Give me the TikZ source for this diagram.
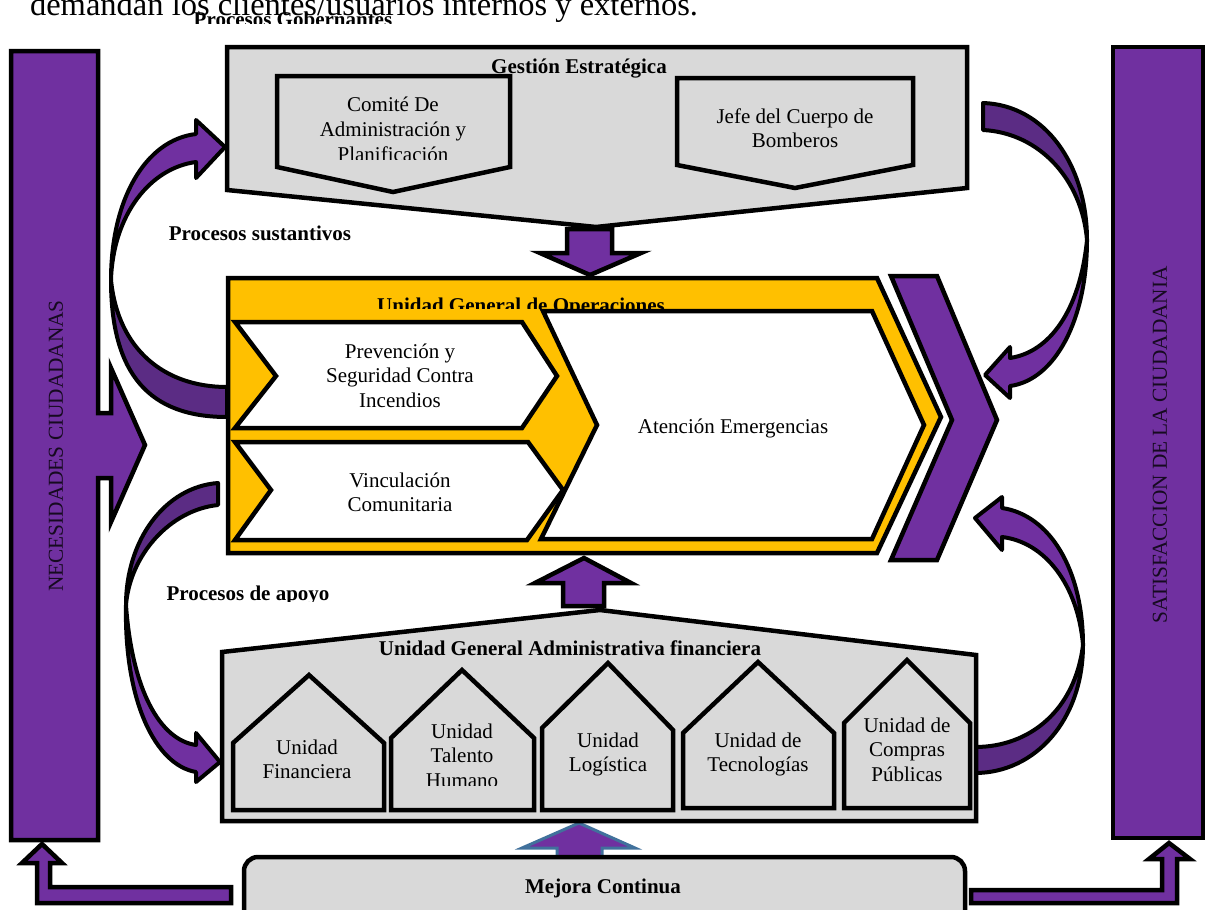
\documentclass[tikz,border=0pt]{standalone}
\usepackage{fontspec}
\setmainfont{Liberation Serif}
\definecolor{pu}{HTML}{7030A0}
\definecolor{pud}{HTML}{5B2C84}
\definecolor{gr}{HTML}{D9D9D9}
\definecolor{ye}{HTML}{FFC000}
\definecolor{bl}{HTML}{41719C}
\newcommand\mlines[1]{\begin{tabular}[t]{@{}c@{}}#1\end{tabular}}
\begin{document}
\begin{tikzpicture}[x=1pt,y=-1pt,
  bd/.style={draw=black, line width=4.5pt, line join=miter},
  pur/.style={bd, fill=pu},
  curv/.style={draw=black, line width=4pt, line join=round},
  txt/.style={font=\fontsize{21}{24.5}\selectfont, inner sep=0pt, anchor=base},
  btxt/.style={font=\fontsize{21}{24.5}\selectfont\bfseries, inner sep=0pt, anchor=base},
  vtxt/.style={font=\fontsize{21.3}{24}\selectfont, inner sep=0pt, rotate=90, text=black!80!pu}]
\useasboundingbox (0,0) rectangle (1205,910);
\clip (0,0) rectangle (1205,910);
\fill[white] (0,0) rectangle (1205,910);

% title lines
\node[font=\fontsize{32.5}{38}\selectfont, inner sep=0pt, anchor=base] (title) at (364,16) {demandan los clientes/usuarios internos y externos.};
\begin{scope}
  \clip (150,0) rectangle (450,23.5);
  \node[btxt] (gob) at (293,26) {Procesos Gobernantes};
\end{scope}

% side bars
\draw[pur] (11,51) -- (98,51) -- (98,413) -- (111,413) -- (111,368) -- (145,445) -- (111,522) -- (111,478) -- (98,478) -- (98,840) -- (11,840) -- cycle;
\node[vtxt] (nec) at (56,446) {NECESIDADES CIUDADANAS};
\draw[pur] (1113,47) rectangle (1203,838);
\node[vtxt] (sat) at (1160,445) {SATISFACCION DE LA CIUDADANIA};

% L arrows from Mejora Continua
\draw[pur] (231,887) -- (50,887) -- (50,863) -- (62,863) -- (42,844) -- (22,863) -- (37,863) -- (37,903) -- (231,903) -- cycle;
\draw[pur] (971,890) -- (1162,890) -- (1162,859) -- (1149,859) -- (1169,843) -- (1190,859) -- (1177,859) -- (1177,903) -- (971,903) -- cycle;

% curved arrows
\draw[curv, fill=pu] (196,134) -- (196,120) -- (225,147) -- (196,178) -- (196,162) .. controls (150,168) and (113,215) .. (111,280) .. controls (111,200) and (145,140) .. (196,134) -- cycle;
\draw[curv, fill=pud] (111,280) .. controls (111,375) and (150,417) .. (227,417) -- (227,387) .. controls (165,387) and (118,350) .. (111,280) -- cycle;

\draw[curv, fill=pud] (218,483) -- (218,505) .. controls (170,510) and (130,555) .. (126,605) .. controls (126,540) and (165,487) .. (218,483) -- cycle;
\draw[curv, fill=pu] (126,605) .. controls (124,700) and (155,765) .. (196,772) -- (196,782) -- (220,762) -- (196,733) -- (196,745) .. controls (160,740) and (132,690) .. (126,605) -- cycle;

\draw[curv, fill=pud] (983,103) .. controls (1045,105) and (1087,165) .. (1087,240) .. controls (1082,180) and (1040,133) .. (983,130) -- cycle;
\draw[curv, fill=pu] (1087,240) .. controls (1087,320) and (1055,380) .. (1010,386) -- (1010,398) -- (985,375) -- (1010,347) -- (1010,358) .. controls (1050,352) and (1080,310) .. (1087,240) -- cycle;

\draw[curv, fill=pu] (1083,645) .. controls (1083,570) and (1050,515) .. (1002,508) -- (1002,497) -- (975,518) -- (1002,550) -- (1002,537) .. controls (1045,542) and (1078,585) .. (1083,645) -- cycle;
\draw[curv, fill=pud] (1083,645) .. controls (1083,720) and (1035,773) .. (975,773) -- (975,747) .. controls (1030,747) and (1075,710) .. (1083,645) -- cycle;

% straight arrows
\draw[pur] (567,229) -- (612,229) -- (612,253) -- (641,253) -- (590,275) -- (540,253) -- (567,253) -- cycle;
\draw[pur] (563,606) -- (563,583) -- (535,583) -- (584,558) -- (631,583) -- (604,583) -- (604,606) -- cycle;
\draw[fill=pu, draw=bl, line width=3pt] (557,860) -- (557,848) -- (522,848) -- (579,823) -- (635,848) -- (602,848) -- (602,860) -- cycle;

% top box
\draw[bd, fill=gr] (227,47) -- (967,47) -- (967,188) -- (596,227) -- (227,190) -- cycle;
\draw[bd, fill=gr] (277,76) -- (510,76) -- (510,167) -- (393,192) -- (277,167) -- cycle;
\draw[bd, fill=gr] (677,78) -- (913,78) -- (913,165) -- (795,188) -- (677,165) -- cycle;
\node[btxt] (gest) at (579,73) {Gestión Estratégica};
\begin{scope}
  \clip (280,80) rectangle (507,159.5);
  \node[txt, font=\fontsize{21}{25}\selectfont] (comite) at (393,111) {\mlines{Comité De\\Administración y\\Planificación}};
\end{scope}
\node[txt] (jefe) at (795,123) {\mlines{Jefe del Cuerpo de\\Bomberos}};
\node[btxt] (sust) at (260,240) {Procesos sustantivos};

% operations
\draw[bd, fill=ye] (228,278) -- (877,278) -- (941,417) -- (877,553) -- (228,553) -- cycle;
\begin{scope}
  \clip (300,280) rectangle (700,308);
  \node[btxt] (ope) at (521,312) {Unidad General de Operaciones};
\end{scope}
\draw[bd, fill=white] (235,322) -- (522,322) -- (557,376) -- (522,428) -- (235,428) -- (276,376) -- cycle;
\draw[bd, fill=white] (235,442) -- (528,442) -- (563,490) -- (527,540) -- (235,540) -- (271,490) -- cycle;
\draw[bd, fill=white] (543,311) -- (872,311) -- (924,425) -- (872,539) -- (541,539) -- (597,425) -- cycle;
\node[txt] (prev) at (400,358) {\mlines{Prevención y\\Seguridad Contra\\Incendios}};
\node[txt] (vinc) at (400,487) {\mlines{Vinculación\\Comunitaria}};
\node[txt] (aten) at (733,433) {Atención Emergencias};
\draw[pur] (891,276) -- (937,276) -- (997,420) -- (937,560) -- (891,560) -- (952,420) -- cycle;

\begin{scope}
  \clip (150,570) rectangle (400,601);
  \node[btxt] (apoyo) at (248,600) {Procesos de apoyo};
\end{scope}

% bottom box
\draw[bd, fill=gr] (222,652) -- (600,610) -- (976,655) -- (976,821) -- (222,821) -- cycle;
\node[btxt] (adm) at (570,655) {Unidad General Administrativa financiera};
\draw[bd, fill=gr] (233,810) -- (233,743) -- (309,675) -- (384,743) -- (384,810) -- cycle;
\draw[bd, fill=gr] (391,810) -- (391,738) -- (462,670) -- (534,738) -- (534,810) -- cycle;
\draw[bd, fill=gr] (542,810) -- (542,728) -- (608,663) -- (673,730) -- (673,810) -- cycle;
\draw[bd, fill=gr] (683,808) -- (683,733) -- (758,662) -- (834,733) -- (834,808) -- cycle;
\draw[bd, fill=gr] (844,808) -- (844,723) -- (907,660) -- (970,723) -- (970,808) -- cycle;
\node[txt] (fin) at (307,754) {\mlines{Unidad\\Financiera}};
\begin{scope}
  \clip (395,700) rectangle (530,785);
  \node[txt] (tal) at (462,738) {\mlines{Unidad\\Talento\\Humano}};
\end{scope}
\node[txt] (log) at (608,747) {\mlines{Unidad\\Logística}};
\node[txt] (tec) at (758,747) {\mlines{Unidad de\\Tecnologías}};
\node[txt] (comp) at (907,732) {\mlines{Unidad de\\Compras\\Públicas}};

% mejora continua
\draw[bd, fill=gr, rounded corners=14pt] (244,857) rectangle (965,930);
\node[btxt] (mej) at (603,893) {Mejora Continua};
\end{tikzpicture}
\end{document}
